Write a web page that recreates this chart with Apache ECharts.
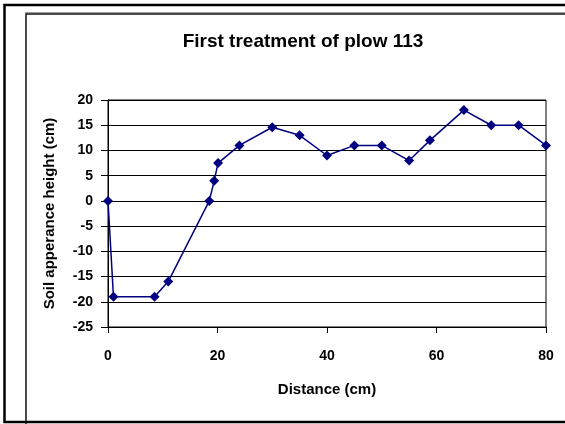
<!DOCTYPE html>
<html>
<head>
<meta charset="utf-8">
<script src="https://cdn.jsdelivr.net/npm/echarts@6/dist/echarts.min.js"></script>
<style>
html,body{margin:0;padding:0;background:#fff;}
#chart{width:565px;height:424px;}
</style>
</head>
<body>
<div id="chart"></div>
<script>
const titleText = "First treatment of plow 113";
const xAxisTitle = "Distance (cm)";
const yAxisTitle = "Soil apperance height (cm)";
const distance = [0, 1, 8.5, 11, 18.5, 19.4, 20.1, 24, 30, 35, 40, 45, 50, 55, 58.8, 65, 70, 75, 80];
const height =   [0, -19, -19, -16, 0, 4, 7.5, 11, 14.6, 13, 9, 11, 11, 8, 12, 18, 15, 15, 11];
const xTicks = [0, 20, 40, 60, 80];
const yTicks = [-25, -20, -15, -10, -5, 0, 5, 10, 15, 20];

const font = "'Liberation Sans', Arial, sans-serif";
const chart = echarts.init(document.getElementById('chart'), null, {renderer: 'canvas'});
chart.setOption({
  animation: false,
  backgroundColor: '#fff',
  title: {
    text: titleText,
    left: 298, top: 27, textAlign: 'center',
    textStyle: {fontFamily: font, fontWeight: 'bold', fontSize: 19, color: '#000'}
  },
  grid: {
    left: 108, right: 19, top: 100, bottom: 97,
    show: true, borderColor: '#000', borderWidth: 1, backgroundColor: 'transparent'
  },
  xAxis: {
    type: 'value',
    min: xTicks[0], max: xTicks[xTicks.length - 1], interval: 20,
    name: xAxisTitle, nameLocation: 'middle', nameGap: 55,
    nameTextStyle: {fontFamily: font, fontWeight: 'bold', fontSize: 15, color: '#000'},
    axisLine: {show: true, onZero: false, lineStyle: {color: '#000', width: 1}},
    axisTick: {show: true, inside: false, length: 6, lineStyle: {color: '#000'}},
    axisLabel: {margin: 22, fontFamily: font, fontWeight: 'bold', fontSize: 14, color: '#000'},
    splitLine: {show: false}
  },
  yAxis: {
    type: 'value',
    min: yTicks[0], max: yTicks[yTicks.length - 1], interval: 5,
    name: yAxisTitle, nameLocation: 'middle', nameGap: 51, nameRotate: 90,
    nameTextStyle: {fontFamily: font, fontWeight: 'bold', fontSize: 15, color: '#000'},
    axisLine: {show: true, onZero: false, lineStyle: {color: '#000', width: 1}},
    axisTick: {show: true, inside: false, length: 7, lineStyle: {color: '#000'}},
    axisLabel: {margin: 15, fontFamily: font, fontWeight: 'bold', fontSize: 14, color: '#000'},
    splitLine: {show: true, lineStyle: {color: '#000', width: 1}}
  },
  series: [{
    type: 'line',
    data: distance.map((d, i) => [d, height[i]]),
    symbol: 'diamond',
    symbolSize: 10,
    lineStyle: {color: '#000080', width: 1.5},
    itemStyle: {color: '#000080'},
    z: 5
  }],
  graphic: [
    {type: 'polyline', shape: {points: [[565, 5], [4.5, 5], [4.5, 422], [565, 422]]},
     style: {stroke: '#000', lineWidth: 2.5, fill: null}, silent: true},
    {type: 'polyline', shape: {points: [[565, 12.5], [25, 12.5]]},
     style: {stroke: '#999', lineWidth: 1, fill: null}, silent: true},
    {type: 'polyline', shape: {points: [[565, 14], [26, 14], [26, 424]]},
     style: {stroke: '#111', lineWidth: 1.5, fill: null}, silent: true}
  ]
});
</script>
</body>
</html>
